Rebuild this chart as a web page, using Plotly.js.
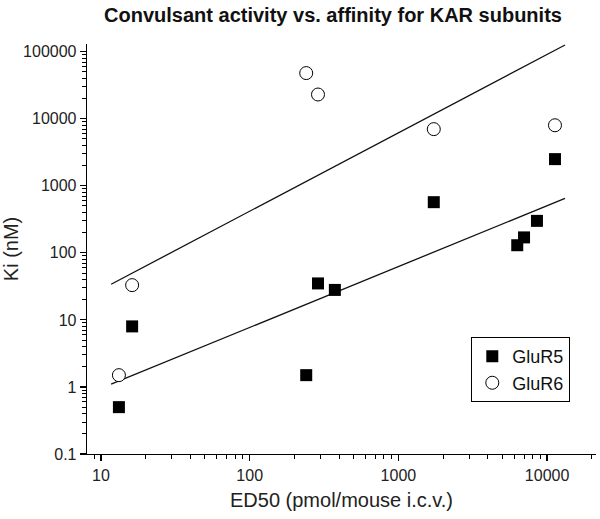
<!DOCTYPE html>
<html>
<head>
<meta charset="utf-8">
<script src="https://cdn.plot.ly/plotly-3.0.1.min.js"></script>
<style>
  html, body { margin: 0; padding: 0; background: #fff; }
  #chartContainer { width: 600px; height: 519px; }
</style>
</head>
<body>
<div id="chartContainer"></div>
<script>
// ED50 (pmol/mouse i.c.v.) vs Ki (nM)
const glur5X = [13.2, 16.2, 240, 288, 374, 1730, 6300, 7000, 8550, 11300];
const glur5Y = [0.5, 8, 1.5, 35, 28, 570, 130, 170, 300, 2500];

const glur6X = [13.2, 16.2, 240, 288, 1730, 11300];
const glur6Y = [1.5, 33, 48000, 23000, 7000, 8000];

// regression lines (end points)
const fit6X = [11.7, 13200];
const fit6Y = [34, 126000];
const fit5X = [11.7, 13200];
const fit5Y = [1.1, 650];

const FONT = 'Liberation Sans, Arial, sans-serif';

var trace1 = {
    x: glur5X,
    y: glur5Y,
    name: 'GluR5',
    mode: 'markers',
    type: 'scatter',
    marker: { symbol: 'square', size: 12, color: '#000' }
};

var trace2 = {
    x: glur6X,
    y: glur6Y,
    name: 'GluR6',
    mode: 'markers',
    type: 'scatter',
    marker: { symbol: 'circle', size: 13, color: '#fff', line: { color: '#000', width: 1 } }
};

var trace3 = {
    x: fit6X, y: fit6Y, mode: 'lines', type: 'scatter', showlegend: false,
    line: { color: '#111', width: 1.3 }
};

var trace4 = {
    x: fit5X, y: fit5Y, mode: 'lines', type: 'scatter', showlegend: false,
    line: { color: '#111', width: 1.3 }
};

var data = [trace3, trace4, trace1, trace2];

var axisCommon = {
    type: 'log',
    showgrid: false,
    zeroline: false,
    showline: true,
    linecolor: '#000',
    linewidth: 1.3,
    ticks: 'outside',
    ticklen: 6,
    tickwidth: 1.2,
    tickcolor: '#000',
    dtick: 1,
    tickformat: '~g',
    tickfont: { family: FONT, size: 16, color: '#222' },
    minor: { ticks: 'outside', ticklen: 4, tickwidth: 1, tickcolor: '#000', dtick: 'D1', showgrid: false }
};

var layout = {
    width: 600,
    height: 519,
    paper_bgcolor: '#fff',
    plot_bgcolor: '#fff',
    margin: { l: 87, r: 4, t: 44, b: 65 },
    title: {
        text: '<b>Convulsant activity vs. affinity for KAR subunits</b>',
        font: { family: FONT, size: 20, color: '#111' },
        x: 0.555, xanchor: 'center',
        y: 0.985, yanchor: 'top'
    },
    showlegend: true,
    legend: {
        x: 0.755, xanchor: 'left',
        y: 0.285, yanchor: 'top',
        bordercolor: '#000',
        borderwidth: 1,
        bgcolor: '#fff',
        font: { family: FONT, size: 18, color: '#111' },
        tracegroupgap: 2
    },
    xaxis: Object.assign({}, axisCommon, {
        range: [0.906, 4.329],
        title: { text: 'ED50 (pmol/mouse i.c.v.)', font: { family: FONT, size: 20, color: '#222' }, standoff: 10 }
    }),
    yaxis: Object.assign({}, axisCommon, {
        range: [-1, 5.115],
        title: { text: 'Ki (nM)', font: { family: FONT, size: 20, color: '#222' }, standoff: 4 }
    })
};

Plotly.newPlot('chartContainer', data, layout, { displayModeBar: false, staticPlot: true });
</script>
</body>
</html>
